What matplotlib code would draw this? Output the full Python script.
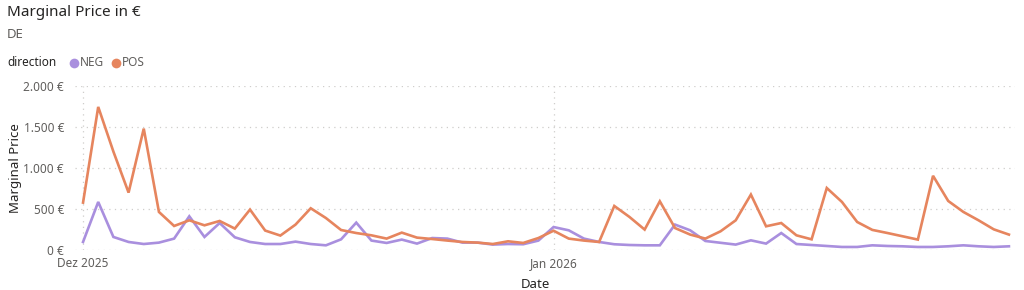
import matplotlib
matplotlib.use("Agg")
import matplotlib.pyplot as plt
from matplotlib.ticker import FuncFormatter
import pandas as pd

plt.rcParams['font.family'] = ['Noto Sans', 'DejaVu Sans']

# daily values, 1 Dec 2025 .. 31 Jan 2026
dates = pd.date_range("2025-12-01", "2026-01-31", freq="D")

pos = [578, 1745, 1200, 700, 1480, 464, 293, 362, 301, 354,
       261, 493, 237, 176, 310, 509, 390, 244, 207, 179,
       139, 212, 151, 134, 115, 98, 90, 73, 106, 86,
       146, 235, 139, 115, 98, 537, 403, 249, 594, 268,
       188, 139, 228, 362, 676, 289, 329, 179, 130, 756,
       586, 342, 245, 207, 167, 127, 905, 598, 464, 362,
       252, 188]

neg = [98, 586, 159, 98, 73, 90, 139, 411, 159, 329,
       155, 98, 73, 73, 102, 73, 57, 130, 334, 115,
       86, 127, 78, 146, 139, 90, 90, 66, 73, 70,
       115, 280, 240, 139, 98, 70, 61, 57, 57, 310,
       240, 110, 88, 66, 118, 78, 207, 73, 61, 49,
       37, 37, 57, 49, 45, 37, 37, 45, 57, 45,
       37, 45]

y_ticks = [0, 500, 1000, 1500, 2000]
x_ticks = ["2025-12-01", "2026-01-01"]
x_tick_labels = ["Dez 2025", "Jan 2026"]

c_neg = "#A98FDE"
c_pos = "#E6855E"
grey = "#605E5C"
dark = "#252423"

fig = plt.figure(figsize=(10.24, 2.9), dpi=100)
ax = fig.add_axes([75/1024, 1-250/290, 940/1024, 164/290])

ax.plot(dates, neg, color=c_neg, lw=1.9, solid_joinstyle="miter", clip_on=False, zorder=3)
ax.plot(dates, pos, color=c_pos, lw=1.9, solid_joinstyle="miter", clip_on=False, zorder=4)

day = pd.Timedelta(days=1)
ax.set_xlim(dates[0] - 0.53*day, dates[-1] + 0.4*day)
ax.set_ylim(0, 2000)

ax.set_yticks(y_ticks)
ax.yaxis.set_major_formatter(FuncFormatter(lambda v, p: f"{int(v):,} €".replace(",", ".")))
ax.set_xticks(pd.to_datetime(x_ticks))
ax.set_xticklabels(x_tick_labels)

ax.tick_params(axis="both", length=0, colors=grey, labelsize=8.5)
ax.tick_params(axis="y", pad=8)
ax.tick_params(axis="x", pad=5)
ax.grid(True, linestyle=(0, (1, 3.5)), color="#CFCDCB", lw=0.9)
for s in ax.spines.values():
    s.set_visible(False)

ax.set_ylabel("Marginal Price", fontsize=9.5, color=dark, labelpad=1)
ax.set_xlabel("Date", fontsize=9.5, color=dark, labelpad=4)
ax.xaxis.set_label_coords(0.49, -0.17)

fig.text(7/1024, 1-12/290, "Marginal Price in €", fontsize=11, color=dark, va="center")
fig.text(7/1024, 1-34/290, "DE", fontsize=9.5, color=grey, va="center")
fig.text(7/1024, 1-63/290, "direction", fontsize=8.5, color=dark, weight="bold", va="center")
fig.lines.append(plt.Line2D([74/1024], [1-63/290], marker="o", ms=7, color=c_neg,
                            mec="none", transform=fig.transFigure))
fig.text(80/1024, 1-63/290, "NEG", fontsize=8.5, color=grey, va="center")
fig.lines.append(plt.Line2D([116/1024], [1-63/290], marker="o", ms=7, color=c_pos,
                            mec="none", transform=fig.transFigure))
fig.text(122/1024, 1-63/290, "POS", fontsize=8.5, color=grey, va="center")

fig.savefig("out.png", dpi=100)
